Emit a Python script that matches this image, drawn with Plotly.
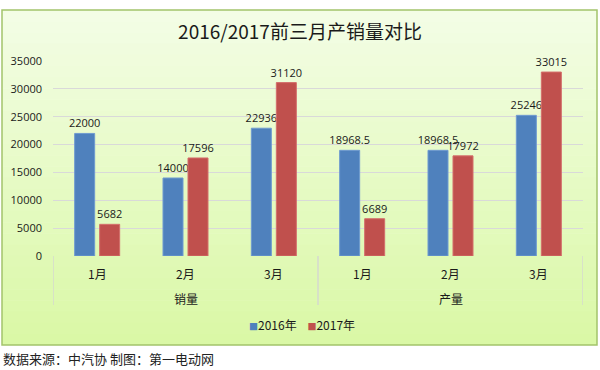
import plotly.graph_objects as go

groups = ["销量", "销量", "销量", "产量", "产量", "产量"]
months = ["1月", "2月", "3月", "1月", "2月", "3月"]
group_names = ["销量", "产量"]
series_names = ["2016年", "2017年"]
values_2016 = [22000, 14000, 22936, 18968.5, 18968.5, 25246]
values_2017 = [5682, 17596, 31120, 6689, 17972, 33015]
label_2016 = ["22000", "14000", "22936", "18968.5", "18968.5", "25246"]
label_2017 = ["5682", "17596", "31120", "6689", "17972", "33015"]
y_ticks = [0, 5000, 10000, 15000, 20000, 25000, 30000, 35000]
colors = ["#4f81bd", "#c0504d"]

W, H = 600, 370
L, R, T, B = 53, 17, 61, 114
pw, ph = W - L - R, H - T - B

FONT = "Noto Sans CJK SC, Open Sans, sans-serif"
NUMFONT = "Open Sans, sans-serif"
TXT = "#1a1a1a"

fig = go.Figure()
for vals, labs, name, col, edge in [
    (values_2016, label_2016, series_names[0], colors[0], "#6f9bd0"),
    (values_2017, label_2017, series_names[1], colors[1], "#d46e6b"),
]:
    fig.add_trace(go.Bar(
        x=[groups, months], y=vals, name=name,
        marker=dict(color=col, line=dict(color=edge, width=1)),
        text=labs, textposition="outside", cliponaxis=False, constraintext="none",
        textfont=dict(size=11, color=TXT, family=NUMFONT),
        showlegend=False, hoverinfo="skip",
    ))


def px_x(p):
    return (p - L) / pw


def px_y(p):
    return (H - B - p) / ph


# panel background gradient
top_y, bot_y, left_x, right_x = 10, 345, 2, 597
shapes = []
n = 30
c0 = (243, 253, 229)
c1 = (218, 248, 166)
for i in range(n):
    f = i / (n - 1)
    col = tuple(round(c0[k] + (c1[k] - c0[k]) * f) for k in range(3))
    y0 = top_y + (bot_y - top_y) * i / n
    y1 = min(top_y + (bot_y - top_y) * (i + 1) / n + 0.5, bot_y)
    shapes.append(dict(type="rect", xref="paper", yref="paper", layer="below",
                       x0=px_x(left_x), x1=px_x(right_x), y0=px_y(y0), y1=px_y(y1),
                       fillcolor="rgb(%d,%d,%d)" % col, line=dict(width=0)))
shapes.append(dict(type="rect", xref="paper", yref="paper", layer="below",
                   x0=px_x(left_x), x1=px_x(right_x), y0=px_y(top_y), y1=px_y(bot_y),
                   fillcolor="rgba(0,0,0,0)", line=dict(color="#a3c46b", width=1.5)))

# category dividers (group boundaries)
n_cat = len(months)
per_group = n_cat // len(group_names)
for b in range(len(group_names) + 1):
    xv = b * per_group - 0.5
    shapes.append(dict(type="line", xref="x", yref="paper", layer="below",
                       x0=xv, x1=xv, y0=px_y(256), y1=px_y(305),
                       line=dict(color="#d4d4d4", width=1.3)))

annotations = []
for i, m in enumerate(months):
    annotations.append(dict(text=m, xref="x", yref="paper", x=i, y=px_y(273),
                            xanchor="center", yanchor="middle", showarrow=False,
                            font=dict(size=12, color=TXT, family=FONT)))
for g, gname in enumerate(group_names):
    annotations.append(dict(text=gname, xref="x", yref="paper",
                            x=g * per_group + (per_group - 1) / 2, y=px_y(298),
                            xanchor="center", yanchor="middle", showarrow=False,
                            font=dict(size=12, color=TXT, family=FONT)))
legend_text = "&nbsp;&nbsp;&nbsp;&nbsp;".join(
    "<span style='font-size:9px;color:%s'>■</span>%s" % (c, s)
    for c, s in zip(colors, series_names))
annotations.append(dict(text=legend_text, xref="paper", yref="paper",
                        x=px_x(302), y=px_y(324), xanchor="center", yanchor="middle",
                        showarrow=False, font=dict(size=12, color=TXT, family=FONT)))
annotations.append(dict(text="数据来源：中汽协 制图：第一电动网", xref="paper", yref="paper",
                        x=px_x(1), y=px_y(358), xanchor="left", yanchor="middle",
                        showarrow=False, font=dict(size=13, color="#222222", family=FONT)))

fig.update_layout(
    width=W, height=H,
    margin=dict(l=L, r=R, t=T, b=B, pad=0),
    paper_bgcolor="white", plot_bgcolor="rgba(0,0,0,0)",
    font=dict(family=FONT, size=12, color=TXT),
    title=dict(text="2016/2017前三月产销量对比", x=0.5, xref="container", xanchor="center",
               y=1 - 32 / H, yanchor="middle", yref="container",
               font=dict(size=19, color=TXT, family=FONT)),
    barmode="group", bargap=0.434, bargroupgap=0.2,
    showlegend=False,
    hovermode=False,
    shapes=shapes,
    annotations=annotations,
)
fig.update_yaxes(range=[0, 35000], tickvals=y_ticks, ticktext=[str(v) for v in y_ticks],
                 showgrid=True, gridcolor="#d9d9d9",
                 gridwidth=1.2, zeroline=False, showline=False, ticks="",
                 ticklabelstandoff=10,
                 tickfont=dict(size=11, color=TXT, family=NUMFONT))
fig.update_xaxes(type="multicategory", showdividers=False, showticklabels=False,
                 ticks="", showline=False, showgrid=False, range=[-0.5, n_cat - 0.5])

fig.write_html("out.html", config={"displayModeBar": False},
               post_script="document.body.style.margin='0';document.body.style.overflow='hidden';")
